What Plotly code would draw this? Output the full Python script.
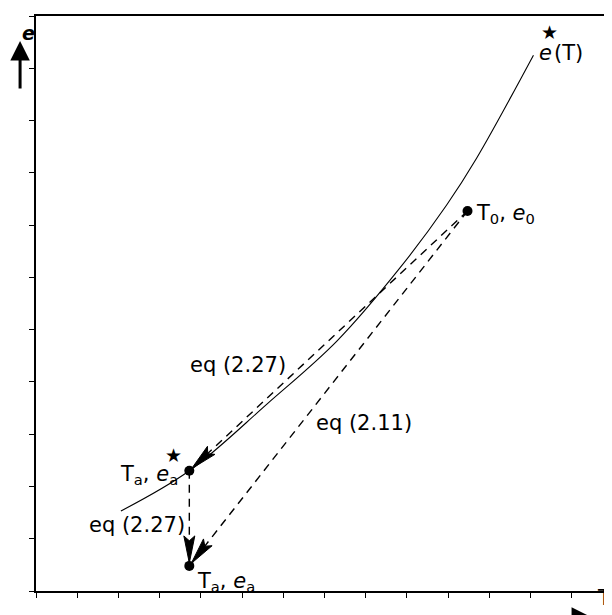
import math
import plotly.graph_objects as go

# ---- data ----
curve_T = [2.06, 3.72, 5.61, 7.30, 8.83, 9.96, 10.69, 12.07]
curve_e = [1.53, 2.30, 3.58, 4.78, 6.18, 7.38, 8.28, 10.25]

T0, e0 = 10.47, 7.27          # initial state
Ta = 3.72                     # final temperature
e_sat_a = 2.30                # saturation vapour pressure at Ta
e_a = 0.48                    # vapour pressure at Ta

x_range = [0, 14]
y_range = [0, 11]

W, H = 612, 615
M = dict(l=28, r=5, t=8, b=32)
FONT = "DejaVu Sans, Liberation Sans, Arial, sans-serif"
BLACK = "black"

# pixel scale of the axes (used only to shape arrow heads)
sx = (W - M["l"] - M["r"]) / (x_range[1] - x_range[0])
sy = (H - M["t"] - M["b"]) / (y_range[1] - y_range[0])

fig = go.Figure()

# saturation curve e*(T)
fig.add_trace(go.Scatter(x=curve_T, y=curve_e, mode="lines",
                         line=dict(color=BLACK, width=1.1, shape="spline", smoothing=1.0),
                         hoverinfo="skip", showlegend=False))

# dashed paths
dash = dict(color=BLACK, width=1.4, dash="8px,6px")
paths = [((T0, e0), (Ta, e_sat_a)),
         ((T0, e0), (Ta, e_a)),
         ((Ta, e_sat_a), (Ta, e_a))]
for (xs, ys), (xe, ye) in paths:
    fig.add_trace(go.Scatter(x=[xs, xe], y=[ys, ye], mode="lines", line=dash,
                             showlegend=False, hoverinfo="skip"))


def head(x0, y0, x1, y1, length=27, half=5.5, standoff=3):
    """filled, slightly notched arrow head pointing from (x0,y0) to (x1,y1)"""
    dx, dy = (x1 - x0) * sx, (y1 - y0) * sy
    n = math.hypot(dx, dy)
    ux, uy = dx / n, dy / n
    px, py = -uy, ux
    tx, ty = x1 * sx - ux * standoff, y1 * sy - uy * standoff
    pts = [(tx, ty),
           (tx - ux * length + px * half, ty - uy * length + py * half),
           (tx - ux * length * 0.82, ty - uy * length * 0.82),
           (tx - ux * length - px * half, ty - uy * length - py * half),
           (tx, ty)]
    fig.add_trace(go.Scatter(x=[p[0] / sx for p in pts], y=[p[1] / sy for p in pts],
                             mode="lines", fill="toself", fillcolor=BLACK,
                             line=dict(color=BLACK, width=1),
                             showlegend=False, hoverinfo="skip"))


for (xs, ys), (xe, ye) in paths:
    head(xs, ys, xe, ye)

# state points
fig.add_trace(go.Scatter(x=[T0, Ta, Ta], y=[e0, e_sat_a, e_a], mode="markers",
                         marker=dict(color=BLACK, size=10),
                         showlegend=False, hoverinfo="skip"))

annotations = []


def label(x, y, text, xanchor="left", size=21, yanchor="middle"):
    annotations.append(dict(x=x, y=y, xref="x", yref="y", text=text, showarrow=False,
                            xanchor=xanchor, yanchor=yanchor,
                            font=dict(family=FONT, size=size, color=BLACK)))


label(12.15, 10.30, "<i>e</i>")
label(12.46, 10.70, "★", xanchor="center", size=19)
label(12.53, 10.30, "(T)")
label(10.62, 7.22, "T<sub>0</sub>, <i>e</i><sub>0</sub>")
label(3.70, 4.32, "eq (2.27)")
label(6.75, 3.21, "eq (2.11)")
label(3.50, 2.22, "T<sub>a</sub>, <i>e</i><sub>a</sub>", xanchor="right")
label(3.33, 2.60, "★", xanchor="center", size=19)
label(1.24, 1.26, "eq (2.27)")
label(3.85, 0.18, "T<sub>a</sub>, <i>e</i><sub>a</sub>")

# axis symbols with arrows (outside the plot frame)
annotations.append(dict(x=-0.028, y=0.993, xref="paper", yref="paper", text="<b><i>e</i></b>",
                        showarrow=False, font=dict(family=FONT, size=19, color=BLACK)))
annotations.append(dict(x=-0.0276, y=0.9565, xref="paper", yref="paper", text="",
                        showarrow=True, ax=0, ay=49, arrowhead=2, arrowsize=1.3,
                        arrowwidth=3, arrowcolor=BLACK))
annotations.append(dict(x=1.0, y=-0.036, xref="paper", yref="paper", text="T",
                        showarrow=False, xanchor="right",
                        font=dict(family=FONT, size=21, color=BLACK)))
annotations.append(dict(x=0.962, y=-0.045, xref="paper", yref="paper", text="",
                        showarrow=True, ax=-46, ay=0, arrowhead=2, arrowsize=1.3,
                        arrowwidth=3, arrowcolor=BLACK))

axis_common = dict(showgrid=False, zeroline=False, showticklabels=False,
                   ticks="outside", ticklen=5, tickwidth=1.2, tickcolor=BLACK,
                   showline=True, linecolor=BLACK, linewidth=1.5, mirror=True,
                   dtick=1, tick0=0)

fig.update_layout(
    width=W, height=H,
    margin=M,
    plot_bgcolor="white", paper_bgcolor="white",
    xaxis=dict(range=x_range, **axis_common),
    yaxis=dict(range=y_range, **axis_common),
    annotations=annotations,
    showlegend=False,
)

fig.write_html("out.html")
